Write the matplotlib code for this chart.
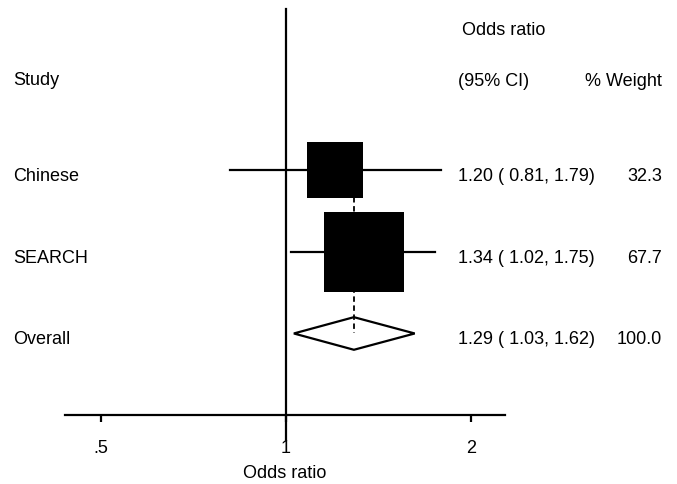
import matplotlib
matplotlib.use('Agg')
import matplotlib.pyplot as plt
import matplotlib.transforms as transforms
from matplotlib.patches import Polygon

plt.rcParams['font.family'] = ['Liberation Sans', 'DejaVu Sans']

# Data
studies = ['Chinese', 'SEARCH']
odds = [1.20, 1.34]
ci_low = [0.81, 1.02]
ci_high = [1.79, 1.75]
weights = [32.3, 67.7]

overall_label = 'Overall'
overall_or = 1.29
overall_low = 1.03
overall_high = 1.62
overall_weight = 100.0

tick_vals = [0.5, 1, 2]
tick_labels = ['.5', '1', '2']

W, H = 677, 484
fig = plt.figure(figsize=(W / 100, H / 100), dpi=100)
fig.patch.set_facecolor('white')

# axes box in pixels: x 65..505, y 9..415 (from top)
ax = fig.add_axes([65 / W, (H - 415) / H, 440 / W, 406 / H])
ax.set_xscale('log')
ax.set_xlim(0.437, 2.272)
ax.set_ylim(0, 4.98)

rows = [3, 2]
overall_row = 1
fs = 13
lw = 1.6

# overall diamond
h = 0.2
diamond = Polygon([(overall_low, overall_row), (overall_or, overall_row + h),
                   (overall_high, overall_row), (overall_or, overall_row - h)],
                  closed=True, facecolor='white', edgecolor='black', lw=lw, zorder=1)
ax.add_patch(diamond)

# overall estimate line (dashed), down to the diamond centre
ax.plot([overall_or, overall_or], [rows[0], overall_row], color='black',
        lw=1.3, linestyle=(0, (3, 2)), zorder=2)

# reference line at 1
ax.plot([1, 1], [-0.307, 4.98], color='black', lw=lw, clip_on=False, zorder=2)

# study rows
for r, o, lo, hi, w in zip(rows, odds, ci_low, ci_high, weights):
    ax.plot([lo, hi], [r, r], color='black', lw=lw, zorder=3)
    ax.scatter([o], [r], marker='s', s=49 * w, color='black', linewidths=0, zorder=4)

# axis styling
for side in ['top', 'left', 'right']:
    ax.spines[side].set_visible(False)
ax.spines['bottom'].set_linewidth(lw)
ax.set_yticks([])
ax.set_xticks(tick_vals)
ax.set_xticklabels(tick_labels, fontsize=fs)
ax.xaxis.set_minor_locator(matplotlib.ticker.NullLocator())
ax.tick_params(axis='x', direction='out', length=5, width=lw, pad=13)
ax.set_xlabel('Odds ratio', fontsize=fs)
ax.xaxis.set_label_coords(0.5, -0.145)
ax.xaxis.label.set_va('center')

# text columns
tr = transforms.blended_transform_factory(fig.transFigure, ax.transData)
off = 0.075
ax.text(13 / W, 4.10, 'Study', transform=tr, fontsize=fs, va='center', ha='left')
ax.text(462 / W, 4.72, 'Odds ratio', transform=tr, fontsize=fs, va='center', ha='left')
ax.text(458 / W, 4.09, '(95% CI)', transform=tr, fontsize=fs, va='center', ha='left')
ax.text(662 / W, 4.09, '% Weight', transform=tr, fontsize=fs, va='center', ha='right')

labels = studies + [overall_label]
all_or = odds + [overall_or]
all_lo = ci_low + [overall_low]
all_hi = ci_high + [overall_high]
all_w = weights + [overall_weight]
all_rows = rows + [overall_row]
for r, lab, o, lo, hi, w in zip(all_rows, labels, all_or, all_lo, all_hi, all_w):
    ax.text(13 / W, r - off, lab, transform=tr, fontsize=fs, va='center', ha='left')
    ax.text(458 / W, r - off, f'{o:.2f} ( {lo:.2f}, {hi:.2f})', transform=tr,
            fontsize=fs, va='center', ha='left')
    ax.text(662 / W, r - off, f'{w:.1f}', transform=tr, fontsize=fs,
            va='center', ha='right')

fig.savefig('out.png', dpi=100, facecolor='white')
plt.close(fig)
